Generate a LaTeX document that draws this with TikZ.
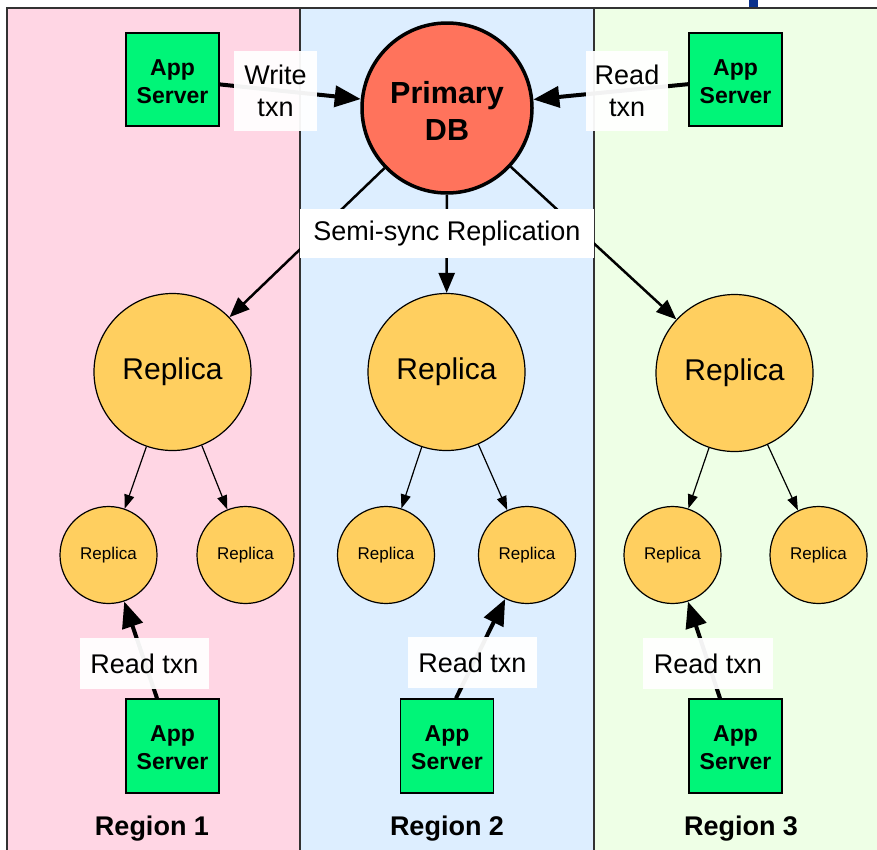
\documentclass[tikz,border=0pt]{standalone}
\usepackage{fontspec}
\setmainfont{Liberation Sans}
\usetikzlibrary{arrows.meta}
\definecolor{regpink}{RGB}{255,214,228}
\definecolor{regblue}{RGB}{221,238,255}
\definecolor{reggreen}{RGB}{238,255,230}
\definecolor{appgreen}{RGB}{0,245,120}
\definecolor{primred}{RGB}{255,115,92}
\definecolor{repyellow}{RGB}{255,207,95}
\definecolor{framegray}{RGB}{50,50,50}
\definecolor{markblue}{RGB}{10,50,140}
\begin{document}
\begin{tikzpicture}[x=1pt,y=-1pt,
  appbox/.style={draw=black,line width=1.5pt,fill=appgreen,minimum width=93pt,minimum height=93pt,inner sep=0pt,align=center,font=\fontsize{23}{28}\selectfont\bfseries},
  primbox/.style={circle,draw=black,line width=3.5pt,fill=primred,minimum size=170pt,inner sep=0pt,align=center,font=\fontsize{30.5}{37}\selectfont\bfseries},
  bigrep/.style={circle,draw=black,line width=1.2pt,fill=repyellow,minimum size=157pt,inner sep=0pt,font=\fontsize{30}{36}\selectfont},
  smallrep/.style={circle,draw=black,line width=1.2pt,fill=repyellow,minimum size=97pt,inner sep=0pt,font=\fontsize{17}{20}\selectfont},
  lbl/.style={fill=white,fill opacity=0.95,text opacity=1,inner sep=0pt,align=center,font=\fontsize{27}{32}\selectfont},
  regionlbl/.style={anchor=base,inner sep=0pt,font=\fontsize{27}{32}\selectfont\bfseries},
  framestyle/.style={draw=framegray,line width=1.5pt},
  thickarr/.style={line width=4pt,-{Triangle[length=26pt,width=21pt]}},
  reparr/.style={line width=2.5pt,-{Triangle[length=20pt,width=16pt]}},
  thinarr/.style={line width=1.2pt,-{Triangle[length=14pt,width=10pt]}},
]
\useasboundingbox (0,0) rectangle (877,849);
\clip (0,0) rectangle (877,849);
\fill[white] (0,0) rectangle (877,849);
% regions
\fill[regpink] (7,8) rectangle (300,870);
\fill[regblue] (300,8) rectangle (594,870);
\fill[reggreen] (594,8) rectangle (890,870);
\draw[framestyle] (7,870) -- (7,8) -- (890,8);
\draw[framestyle] (300,8) -- (300,870);
\draw[framestyle] (594,8) -- (594,870);
\fill[markblue] (749,0) rectangle (758,7);
% nodes
\node[appbox] (appTL) at (172.5,79.5) {\rule{0pt}{20pt}App\\Server};
\node[appbox] (appTR) at (735.5,79.5) {\rule{0pt}{20pt}App\\Server};
\node[primbox] (primary) at (447,108) {\rule{0pt}{28pt}Primary\\DB};
\node[bigrep] (rep1) at (172.5,372) {Replica};
\node[bigrep] (rep2) at (446.5,372) {Replica};
\node[bigrep] (rep3) at (734.5,373) {Replica};
\node[smallrep] (s1) at (108.5,555) {Replica};
\node[smallrep] (s2) at (245.5,555) {Replica};
\node[smallrep] (s3) at (386,555) {Replica};
\node[smallrep] (s4) at (527,555) {Replica};
\node[smallrep] (s5) at (672.5,555) {Replica};
\node[smallrep] (s6) at (818.5,555) {Replica};
\node[appbox,minimum height=94pt] (appBL) at (172.5,746) {\rule{0pt}{20pt}App\\Server};
\node[appbox,minimum height=94pt] (appBM) at (447,746) {\rule{0pt}{20pt}App\\Server};
\node[appbox,minimum height=94pt] (appBR) at (735.5,746) {\rule{0pt}{20pt}App\\Server};
% connectors
\draw[thickarr] (appTL) -- (primary);
\draw[thickarr] (appTR) -- (primary);
\draw[reparr] (primary) -- (rep1);
\draw[reparr] (primary) -- (rep2);
\draw[reparr] (primary) -- (rep3);
\draw[thinarr] (rep1) -- (s1);
\draw[thinarr] (rep1) -- (s2);
\draw[thinarr] (rep2) -- (s3);
\draw[thinarr] (rep2) -- (s4);
\draw[thinarr] (rep3) -- (s5);
\draw[thinarr] (rep3) -- (s6);
\draw[thickarr] ([xshift=-15.5pt]appBL.north) -- (s1);
\draw[thickarr] ([xshift=9pt]appBM.north) -- (s4);
\draw[thickarr] ([xshift=-15.5pt]appBR.north) -- (s5);
% labels
\node[lbl,minimum width=83pt,minimum height=80pt] (wtxn) at (275.5,91) {Write\\txn};
\node[lbl,minimum width=82pt,minimum height=80pt] (rtxnT) at (627,91) {Read\\txn};
\node[lbl,fill opacity=1,minimum width=294pt,minimum height=49pt] (semi) at (447,233.5) {Semi-sync Replication};
\node[lbl,minimum width=129pt,minimum height=51pt] (rtxn1) at (144.5,663.5) {Read txn};
\node[lbl,minimum width=129pt,minimum height=51pt] (rtxn2) at (472.5,662.5) {Read txn};
\node[lbl,minimum width=130pt,minimum height=51pt] (rtxn3) at (708,663.5) {Read txn};
\node[regionlbl] (reg1) at (152,835) {Region 1};
\node[regionlbl] (reg2) at (447,835) {Region 2};
\node[regionlbl] (reg3) at (741,835) {Region 3};
\end{tikzpicture}
\end{document}
